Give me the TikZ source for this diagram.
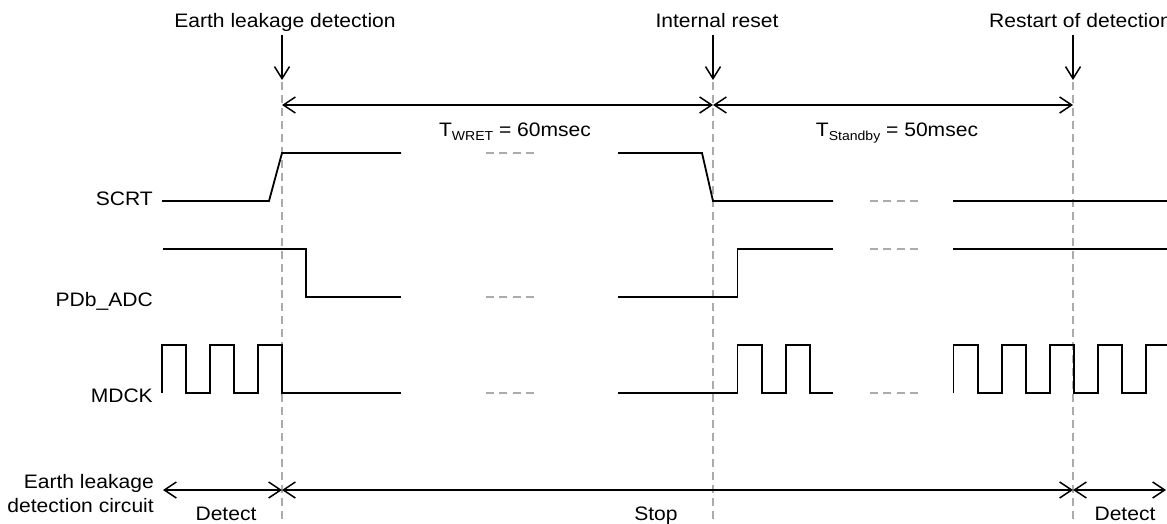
\documentclass[tikz,border=0pt]{standalone}
\usepackage{fontspec}
\setmainfont{Liberation Sans}
\usetikzlibrary{arrows.meta}
\newcommand{\subtxt}[1]{\raisebox{-4pt}{\fontsize{13}{13}\selectfont #1}}
\begin{document}
\begin{tikzpicture}[x=1pt,y=-1pt,
  sig/.style={line width=1.8pt, line join=miter},
  guide/.style={line width=1.5pt, draw=black!33, dash pattern=on 8pt off 5pt},
  gapdash/.style={line width=1.5pt, draw=black!33, dash pattern=on 8pt off 5.33pt},
  dim/.style={line width=1.5pt, {Straight Barb[length=12pt,width=16pt]}-{Straight Barb[length=12pt,width=16pt]}},
  evt/.style={line width=1.5pt, -{Straight Barb[length=12pt,width=15pt]}},
  lbl/.style={font=\fontsize{19.5}{23}\selectfont, inner sep=0pt, xscale=1.08},
]
\useasboundingbox (0,0) rectangle (1167,524);
\clip (0,0) rectangle (1167,524);

% event coordinates
\coordinate (g1t) at (282,82);  \coordinate (g1b) at (282,524);
\coordinate (g2t) at (713,82);  \coordinate (g2b) at (713,524);
\coordinate (g3t) at (1073,82); \coordinate (g3b) at (1073,524);

% vertical guides
\draw[guide] (g1t) -- (g1b);
\draw[guide] (g2t) -- (g2b);
\draw[guide] (g3t) -- (g3b);

% top labels and arrows
\node[lbl, anchor=base] (lt1) at (285,28) {Earth leakage detection};
\node[lbl, anchor=base] (lt2) at (717,28) {Internal reset};
\node[lbl, anchor=base west] (lt3) at (989,28) {Restart of detection};
\coordinate (a1s) at (282,35); \coordinate (a1e) at (282,80);
\coordinate (a2s) at (713,35); \coordinate (a2e) at (713,80);
\coordinate (a3s) at (1073,35); \coordinate (a3e) at (1073,80);
\draw[evt] (a1s) -- (a1e);
\draw[evt] (a2s) -- (a2e);
\draw[evt] (a3s) -- (a3e);

% timing dimensions
\coordinate (d1) at (282,105); \coordinate (d2) at (713,105); \coordinate (d3) at (1073,105);
\draw[dim] (d1) -- (d2);
\draw[dim] (d2) -- (d3);
\node[lbl, anchor=base] (tw) at (515,136) {T\subtxt{WRET} = 60msec};
\node[lbl, anchor=base] (ts) at (897,136) {T\subtxt{Standby} = 50msec};

% signal names
\node[lbl, anchor=base east] (nscrt) at (153,205) {SCRT};
\node[lbl, anchor=base east] (npdb) at (153,306) {PDb\_ADC};
\node[lbl, anchor=base east] (nmdck) at (153,402) {MDCK};

% SCRT
\draw[sig] (162,201) -- (269,201) -- (282,153) -- (401,153);
\draw[gapdash] (486,153) -- (534,153);
\draw[sig] (618,153) -- (702,153) -- (713,201) -- (833,201);
\draw[gapdash] (870,201) -- (918,201);
\draw[sig] (953,201) -- (1167,201);

% PDb_ADC
\draw[sig] (163,249) -- (305.7,249) -- (305.7,297) -- (401,297);
\draw[gapdash] (486,297) -- (534,297);
\draw[sig] (618,297) -- (737.4,297) -- (737.4,249) -- (833,249);
\draw[gapdash] (870,249) -- (918,249);
\draw[sig] (953,249) -- (1167,249);

% MDCK
\draw[sig] (162,393) |- (186,345) |- (210,393) |- (234,345) |- (258,393) |- (282,345) |- (401,393);
\draw[gapdash] (486,393) -- (534,393);
\draw[sig] (618,393) -- (737.4,393) |- (761.6,345) |- (785.6,393) |- (809.8,345) |- (833,393);
\draw[gapdash] (870,393) -- (918,393);
\draw[sig] (953.5,393) |- (977.7,345) |- (1001.7,393) |- (1025.8,345) |- (1049.8,393) |- (1073.8,345) |- (1097.8,393) |- (1121.8,345) |- (1145.8,393) |- (1170,345);

% bottom: detection circuit state
\node[lbl, anchor=base east] (nel1) at (154,488) {Earth leakage};
\node[lbl, anchor=base east] (nel2) at (154,512) {detection circuit};
\coordinate (b0) at (163,490); \coordinate (b1) at (282,490);
\coordinate (b2) at (1073,490); \coordinate (b3) at (1166,490);
\draw[dim] (b0) -- (b1);
\draw[dim] (b1) -- (b2);
\draw[dim] (b2) -- (b3);
\node[lbl, anchor=base] (sdet1) at (226,520) {Detect};
\node[lbl, anchor=base] (sstop) at (656,520) {Stop};
\node[lbl, anchor=base] (sdet2) at (1125,520) {Detect};
\end{tikzpicture}
\end{document}
